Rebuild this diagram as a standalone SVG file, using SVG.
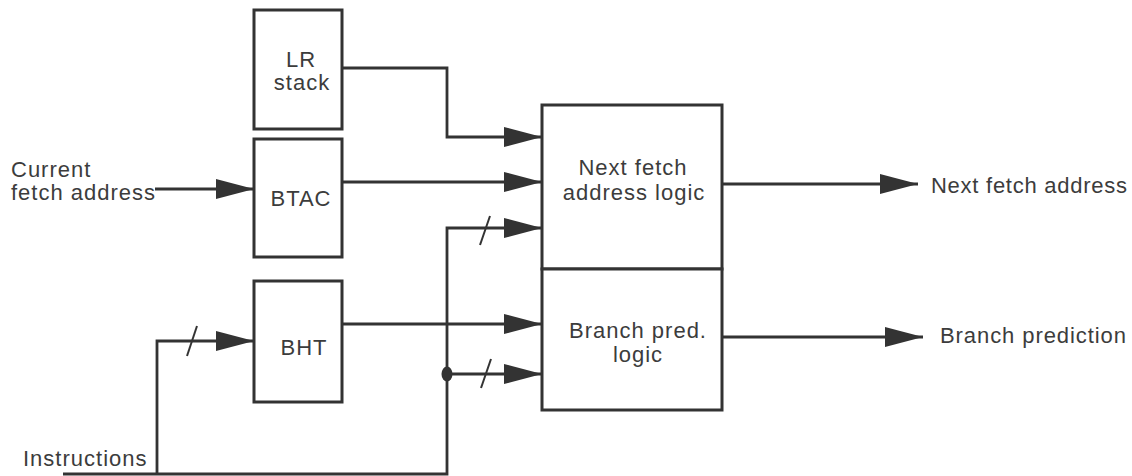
<svg xmlns="http://www.w3.org/2000/svg" width="1132" height="476" viewBox="0 0 1132 476">
<defs>
<style>
.box{fill:#fff;stroke:#333;stroke-width:3}
.ln{fill:none;stroke:#333;stroke-width:2.8}
.sl{fill:none;stroke:#333;stroke-width:2}
text{font-family:"Liberation Sans",Arial,sans-serif;font-size:22px;letter-spacing:1px;fill:#3c3c3c}
.c{text-anchor:middle}
</style>
<marker id="ah" viewBox="0 0 38 20" refX="38" refY="10" markerWidth="38" markerHeight="20" markerUnits="userSpaceOnUse" orient="auto">
<path d="M0,0 L38,10 L0,20 Z" fill="#333"/>
</marker>
</defs>
<rect width="1132" height="476" fill="#fff"/>

<g id="connectors">
<path class="ln" d="M342,68 H447 V137 H542" marker-end="url(#ah)"/>
<path class="ln" d="M155,189 H254" marker-end="url(#ah)"/>
<path class="ln" d="M342,182 H542" marker-end="url(#ah)"/>
<path class="ln" d="M63,474 H447 V228 H542" marker-end="url(#ah)"/>
<path class="ln" d="M157,474 V341 H254" marker-end="url(#ah)"/>
<path class="ln" d="M342,324 H542" marker-end="url(#ah)"/>
<path class="ln" d="M447,374 H542" marker-end="url(#ah)"/>
<path class="ln" d="M722,184 H918" marker-end="url(#ah)"/>
<path class="ln" d="M722,337 H923" marker-end="url(#ah)"/>
<line class="sl" x1="187" y1="356" x2="197" y2="326"/>
<line class="sl" x1="480" y1="245" x2="490" y2="216"/>
<line class="sl" x1="481" y1="388" x2="491" y2="359"/>
<ellipse cx="447" cy="374" rx="5.5" ry="7.5" fill="#333"/>
</g>

<g id="lr-stack">
<rect class="box" x="254" y="10" width="88" height="119"/>
<text class="c" x="301" y="67">LR</text>
<text class="c" x="302" y="90">stack</text>
</g>

<g id="btac">
<rect class="box" x="254" y="139" width="88" height="118"/>
<text class="c" x="301" y="206">BTAC</text>
</g>

<g id="bht">
<rect class="box" x="254" y="281" width="88" height="121"/>
<text class="c" x="304" y="355">BHT</text>
</g>

<g id="next-fetch-logic">
<rect class="box" x="542" y="105" width="180" height="164"/>
<text class="c" x="633" y="175">Next fetch</text>
<text class="c" x="634" y="200">address logic</text>
</g>

<g id="branch-pred-logic">
<rect class="box" x="542" y="269" width="180" height="141"/>
<text class="c" x="638" y="338">Branch pred.</text>
<text class="c" x="638" y="362">logic</text>
</g>

<g id="labels">
<text x="11" y="177">Current</text>
<text x="11" y="200">fetch address</text>
<text x="23" y="466">Instructions</text>
<text x="931" y="193" textLength="197">Next fetch address</text>
<text x="940" y="343" textLength="187">Branch prediction</text>
</g>
</svg>
